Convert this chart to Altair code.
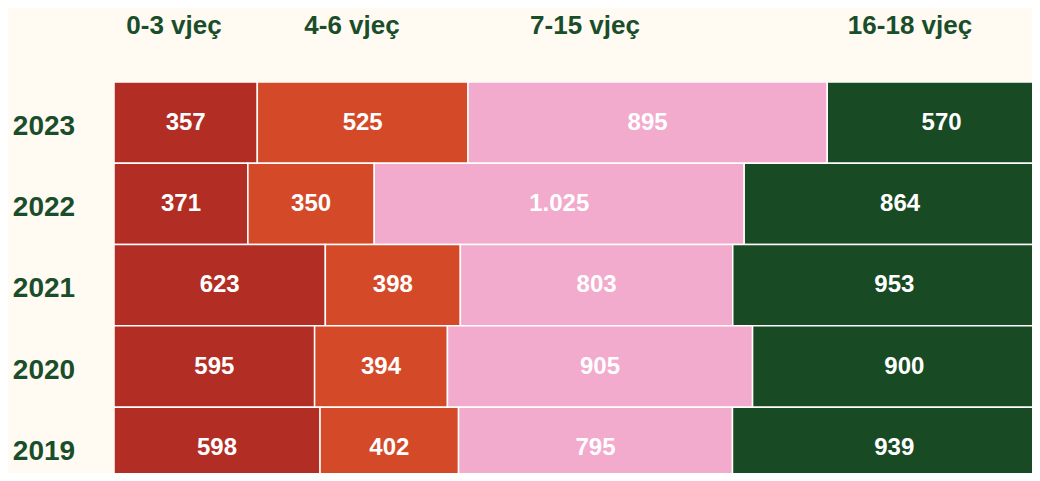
import altair as alt
import pandas as pd

years = ["2023", "2022", "2021", "2020", "2019"]
groups = ["0-3 vjeç", "4-6 vjeç", "7-15 vjeç", "16-18 vjeç"]
v_0_3 = [357, 371, 623, 595, 598]
v_4_6 = [525, 350, 398, 394, 402]
v_7_15 = [895, 1025, 803, 905, 795]
v_16_18 = [570, 864, 953, 900, 939]

colors = ["#B22D24", "#D44A29", "#F2AACD", "#184A24"]
text_green = "#1A4D2A"
bg = "#FFFAF2"
FONT = "Liberation Sans"

rows = []
for i, yr in enumerate(years):
    vals = [v_0_3[i], v_4_6[i], v_7_15[i], v_16_18[i]]
    total = sum(vals)
    cum = 0
    for g, v in zip(groups, vals):
        rows.append(dict(year=yr, row=i, group=g, value=v,
                         start=cum / total, end=(cum + v) / total,
                         label=f"{v:,}".replace(",", ".")))
        cum += v
df = pd.DataFrame(rows)
df["mid"] = (df["start"] + df["end"]) / 2
df["row_end"] = df["row"] + 1
df["row_mid"] = df["row"] + 0.5

ydf = pd.DataFrame({"year": years, "row_mid": [i + 0.55 for i in range(len(years))]})

xscale = alt.Scale(domain=[0, 0.9745], nice=False, zero=False)
yscale = alt.Scale(domain=[0, 4.81], nice=False, zero=False, reverse=True)

base = alt.Chart(df)

bars = base.mark_rect(clip=True, stroke="#FFFFFF", strokeWidth=1.5).encode(
    x=alt.X("start:Q", scale=xscale, axis=None),
    x2="end:Q",
    y=alt.Y("row:Q", scale=yscale, axis=None),
    y2="row_end:Q",
    color=alt.Color("group:N", scale=alt.Scale(domain=groups, range=colors), legend=None),
)

labels = base.mark_text(color="#FFFFFF", font=FONT, fontWeight="bold", fontSize=24,
                        align="center", baseline="middle").encode(
    x=alt.X("mid:Q", scale=xscale, axis=None),
    y=alt.Y("row_mid:Q", scale=yscale, axis=None),
    text="label:N",
)

year_text = alt.Chart(ydf).mark_text(color=text_green, font=FONT, fontWeight="bold", fontSize=28,
                                     align="center", baseline="middle").encode(
    x=alt.value(-70),
    y=alt.Y("row_mid:Q", scale=yscale, axis=None),
    text="year:N",
)

header_x = [60, 238, 471, 796]
headers = []
for g, hx in zip(groups, header_x):
    headers.append(
        alt.Chart(pd.DataFrame({"g": [g]})).mark_text(
            color=text_green, font=FONT, fontWeight="bold", fontSize=26,
            align="center", baseline="middle").encode(
            x=alt.value(hx), y=alt.value(-56), text="g:N")
    )

chart = alt.layer(bars, labels, year_text, *headers).properties(
    width=918, height=391,
    padding={"left": 106, "top": 74, "right": 0, "bottom": 0},
    autosize="none",
    background=bg,
).configure_view(stroke=None)

chart.save("out.html", embed_options={"renderer": "svg", "actions": False})
